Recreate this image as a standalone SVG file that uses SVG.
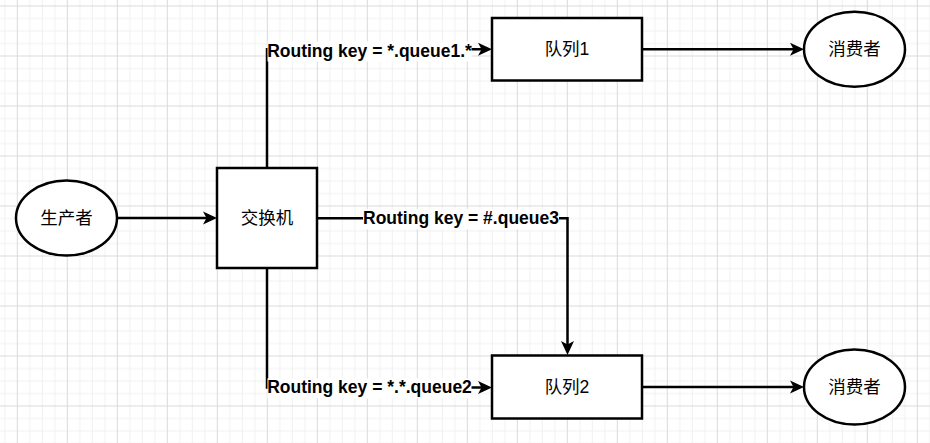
<svg xmlns="http://www.w3.org/2000/svg" width="930" height="443" viewBox="0 0 930 443">
  <defs>
    <pattern id="grid" patternUnits="userSpaceOnUse" x="16.8" y="5.5" width="50" height="50">
      <path d="M13,0 V50 M25.5,0 V50 M38,0 V50 M0,13 H50 M0,25.5 H50 M0,38 H50" stroke="#f0f0f0" stroke-width="1" fill="none"/>
      <path d="M0.5,0 V50 M0,0.5 H50" stroke="#dadada" stroke-width="1" fill="none"/>
    </pattern>
    <marker id="arrow" markerUnits="userSpaceOnUse" viewBox="0 0 14 14" markerWidth="14" markerHeight="14" refX="10" refY="7" orient="auto">
      <path d="M0,0.5 L14,7 L0,13.5 L3.5,7 Z" fill="#000"/>
    </marker>
    <style>
      .shape { fill: #ffffff; stroke: #000000; stroke-width: 2.5; }
      .label { font-family: "Liberation Sans", "Noto Sans CJK SC", sans-serif; font-size: 17.5px; fill: #000; text-anchor: middle; dominant-baseline: central; }
      .edge { fill: none; stroke: #000000; stroke-width: 2.5; marker-end: url(#arrow); }
      .line { fill: none; stroke: #000000; stroke-width: 2.5; }
      .elabel { font-family: "Liberation Sans", Arial, sans-serif; font-size: 17.5px; font-weight: bold; fill: #000; text-anchor: middle; }
      .lbg { fill: #ffffff; }
    </style>
  </defs>
  <rect x="0" y="0" width="930" height="443" fill="#ffffff"/>
  <rect x="0" y="0" width="930" height="443" fill="url(#grid)"/>

  <g id="connectors">
    <path class="edge" d="M117,218 L213,218"/>
    <path class="edge" d="M267,168 L267,49.3 L488,49.3"/>
    <path class="edge" d="M317,218.3 L567.5,218.3 L567.5,351"/>
    <path class="edge" d="M267,268 L267,387.5 L488,387.5"/>
    <path class="edge" d="M642,49.3 L800,49.3"/>
    <path class="edge" d="M642,387 L800,387"/>
    <g id="label-queue1">
      <rect class="lbg" x="267.5" y="41.5" width="204" height="20"/>
      <text class="elabel" x="369.5" y="56.5">Routing key = *.queue1.*</text>
    </g>
    <g id="label-queue3">
      <rect class="lbg" x="363" y="209.3" width="196" height="20"/>
      <text class="elabel" x="461" y="224.3">Routing key = #.queue3</text>
    </g>
    <g id="label-queue2">
      <rect class="lbg" x="267.5" y="378.3" width="204" height="20"/>
      <text class="elabel" x="369.5" y="393.3">Routing key = *.*.queue2</text>
    </g>
  </g>

  <g id="producer">
    <ellipse class="shape" cx="66.5" cy="218" rx="50.5" ry="37.5"/>
    <text class="label" x="66.5" y="218">生产者</text>
  </g>
  <g id="exchange">
    <rect class="shape" x="217" y="168" width="100" height="100"/>
    <text class="label" x="267" y="218">交换机</text>
  </g>
  <g id="queue1">
    <rect class="shape" x="492" y="18" width="150" height="62.5"/>
    <text class="label" x="567" y="49.3">队列1</text>
  </g>
  <g id="queue2">
    <rect class="shape" x="492" y="355.5" width="150" height="63"/>
    <text class="label" x="567" y="387">队列2</text>
  </g>
  <g id="consumer1">
    <ellipse class="shape" cx="854.5" cy="49.3" rx="50.5" ry="37.5"/>
    <text class="label" x="854.5" y="49.3">消费者</text>
  </g>
  <g id="consumer2">
    <ellipse class="shape" cx="854.5" cy="387" rx="50.5" ry="37.5"/>
    <text class="label" x="854.5" y="387">消费者</text>
  </g>
</svg>
